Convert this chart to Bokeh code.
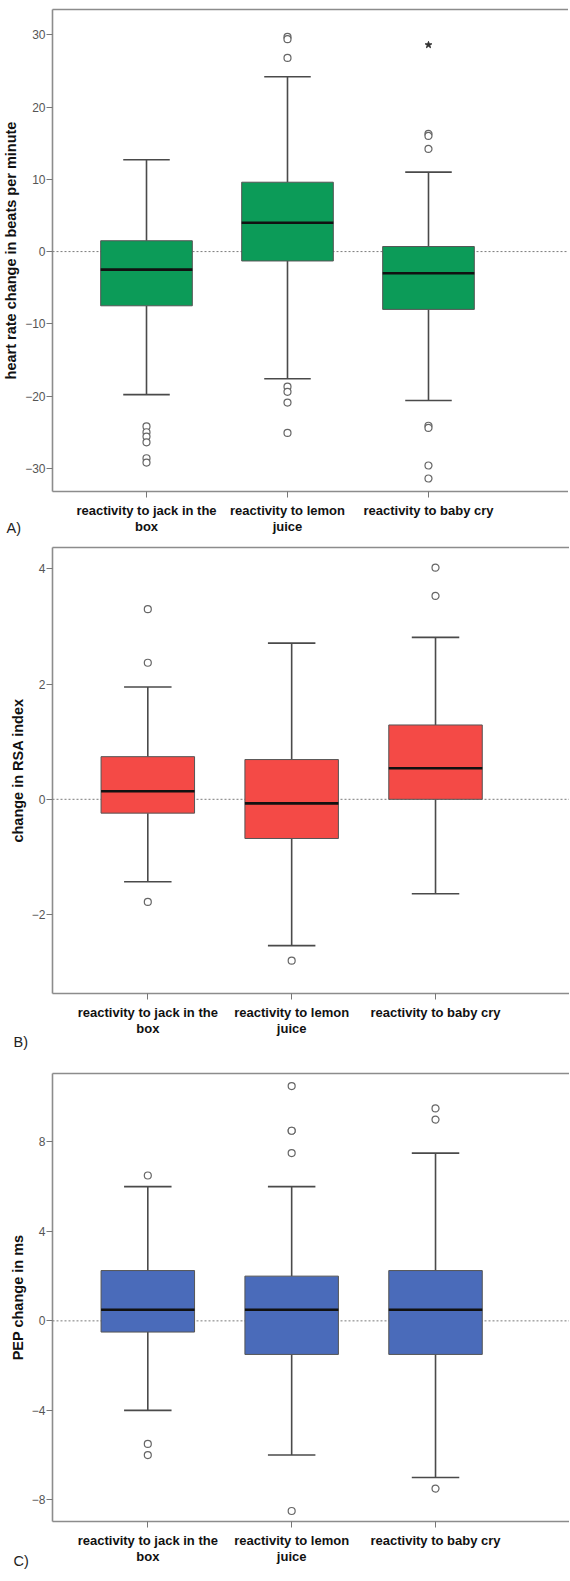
from bokeh.plotting import figure
from bokeh.layouts import column
from bokeh.models import Range1d, Span, LinearAxis, FixedTicker, Title, ColumnDataSource
from bokeh.embed import file_html
from bokeh.resources import INLINE

# ---------------- data ----------------
categories = ["reactivity to jack in the box", "reactivity to lemon juice", "reactivity to baby cry"]
category_labels = ["reactivity to jack in the\nbox", "reactivity to lemon\njuice", "reactivity to baby cry"]
positions = [1, 2, 3]

# Panel A: heart rate change (bpm)
hr_lower = [-19.8, -17.6, -20.6]
hr_q1 = [-7.5, -1.3, -8.0]
hr_median = [-2.5, 4.0, -3.0]
hr_q3 = [1.5, 9.6, 0.7]
hr_upper = [12.7, 24.2, 11.0]
hr_outliers_jack = [-24.2, -25.0, -25.6, -26.4, -28.6, -29.2]
hr_outliers_lemon = [29.7, 29.4, 26.8, -18.7, -19.4, -20.9, -25.1]
hr_outliers_baby = [16.3, 16.0, 14.2, -24.1, -24.4, -29.6, -31.4]
hr_extremes_baby = [28.6]
hr_ticks = [-30, -20, -10, 0, 10, 20, 30]

# Panel B: change in RSA index
rsa_lower = [-1.43, -2.54, -1.64]
rsa_q1 = [-0.24, -0.68, 0.0]
rsa_median = [0.14, -0.07, 0.54]
rsa_q3 = [0.74, 0.69, 1.29]
rsa_upper = [1.95, 2.71, 2.81]
rsa_outliers_jack = [3.30, 2.37, -1.78]
rsa_outliers_lemon = [-2.80]
rsa_outliers_baby = [4.02, 3.53]
rsa_ticks = [-2, 0, 2, 4]

# Panel C: PEP change (ms)
pep_lower = [-4.0, -6.0, -7.0]
pep_q1 = [-0.5, -1.5, -1.5]
pep_median = [0.5, 0.5, 0.5]
pep_q3 = [2.25, 2.0, 2.25]
pep_upper = [6.0, 6.0, 7.5]
pep_outliers_jack = [6.5, -5.5, -6.0]
pep_outliers_lemon = [10.5, 8.5, 8.5, 7.5, -8.5]
pep_outliers_baby = [9.5, 9.0, -7.5]
pep_ticks = [-8, -4, 0, 4, 8]

FRAME = "#8c8c8c"
FONT = "Liberation Sans"


def bare_axis(color, width):
    return LinearAxis(ticker=FixedTicker(ticks=[]), major_label_text_font_size="0px",
                      major_tick_out=0, major_tick_in=0, minor_tick_out=0, minor_tick_in=0,
                      major_label_standoff=0, axis_line_color=color, axis_line_width=width)


def panel(letter, ytitle, lower, q1, med, q3, upper, outs, extremes, yticks,
          yr, xr, fill, fw, fh, ml, mt, mb, letter_standoff):
    p = figure(frame_width=fw, frame_height=fh, min_border_left=ml, min_border_right=0,
               min_border_top=mt, min_border_bottom=mb,
               x_range=Range1d(*xr), y_range=Range1d(*yr),
               output_backend="svg", toolbar_location=None)
    p.outline_line_color = None
    p.grid.visible = False
    p.background_fill_color = "white"
    p.border_fill_color = "white"

    # zero reference line
    p.add_layout(Span(location=0, dimension="width", line_color="#7a7a7a",
                      line_dash="2 2", line_width=1, level="underlay"))

    bw = 0.65
    cw = 0.33
    src = ColumnDataSource(dict(x=positions, lower=lower, q1=q1, med=med, q3=q3, upper=upper,
                                cl=[v - cw / 2 for v in positions], cr=[v + cw / 2 for v in positions],
                                bl=[v - bw / 2 for v in positions], br=[v + bw / 2 for v in positions]))
    # whiskers
    p.segment("x", "q3", "x", "upper", source=src, line_color="#4a4a4a", line_width=1.6)
    p.segment("x", "q1", "x", "lower", source=src, line_color="#4a4a4a", line_width=1.6)
    p.segment("cl", "upper", "cr", "upper", source=src, line_color="#4a4a4a", line_width=1.6)
    p.segment("cl", "lower", "cr", "lower", source=src, line_color="#4a4a4a", line_width=1.6)
    # boxes
    p.vbar(x="x", width=bw, top="q3", bottom="q1", source=src, fill_color=fill,
           line_color="#555555", line_width=1)
    # medians
    p.segment("bl", "med", "br", "med", source=src, line_color="#111111", line_width=2.6)

    # outliers
    ox, oy = [], []
    for pos, vals in zip(positions, outs):
        ox += [pos] * len(vals)
        oy += vals
    p.scatter(ox, oy, marker="circle", size=7, fill_color="white",
              line_color="#666666", line_width=1.2)
    if extremes:
        ex, ey = [], []
        for pos, vals in zip(positions, extremes):
            ex += [pos] * len(vals)
            ey += vals
        p.scatter(ex, ey, marker="star", size=7, fill_color="#333333", line_color="#333333")

    # axes
    xa = p.xaxis[0]
    xa.ticker = FixedTicker(ticks=positions)
    xa.major_label_overrides = {pos: lbl for pos, lbl in zip(positions, category_labels)}
    xa.major_label_text_font = FONT
    xa.major_label_text_font_style = "bold"
    xa.major_label_text_font_size = "13px"
    xa.major_label_text_color = "#111111"
    xa.major_label_standoff = 5
    xa.major_label_text_line_height = 1.1
    xa.minor_tick_line_color = None
    xa.major_tick_in = 0
    xa.major_tick_out = 6
    xa.major_tick_line_color = "#777777"
    xa.axis_line_color = FRAME
    xa.axis_line_width = 1.6

    ya = p.yaxis[0]
    ya.ticker = FixedTicker(ticks=yticks)
    ya.axis_label = ytitle
    ya.axis_label_text_font = FONT
    ya.axis_label_text_font_style = "bold"
    ya.axis_label_text_font_size = "14.5px"
    ya.axis_label_text_color = "#111111"
    ya.axis_label_standoff = 3
    ya.major_label_text_font = FONT
    ya.major_label_text_font_size = "12px"
    ya.major_label_text_color = "#555555"
    ya.major_label_standoff = 1
    ya.minor_tick_line_color = None
    ya.major_tick_in = 0
    ya.major_tick_out = 6
    ya.major_tick_line_color = "#777777"
    ya.axis_line_color = FRAME
    ya.axis_line_width = 1.6

    p.add_layout(bare_axis(FRAME, 1.6), "above")

    p.add_layout(Title(text=letter, align="left", offset=-ml, standoff=letter_standoff,
                       vertical_align="top",
                       text_font=FONT, text_font_size="14.5px", text_font_style="normal",
                       text_color="#222222"), "below")
    return p


pa = panel("A)", "heart rate change in beats per minute", hr_lower, hr_q1, hr_median, hr_q3, hr_upper,
           [hr_outliers_jack, hr_outliers_lemon, hr_outliers_baby], [[], [], hr_extremes_baby],
           hr_ticks, (-33.2, 33.5), (0.3333, 3.993), "#0c9b58", 516, 482, 46, 9, 55, -36)
pb = panel("B)", "change in RSA index", rsa_lower, rsa_q1, rsa_median, rsa_q3, rsa_upper,
           [rsa_outliers_jack, rsa_outliers_lemon, rsa_outliers_baby], None,
           rsa_ticks, (-3.37, 4.37), (0.3375, 3.973), "#f44a46", 523, 446, 39, 1, 79, -12)
pc = panel("C)", "PEP change in ms", pep_lower, pep_q1, pep_median, pep_q3, pep_upper,
           [pep_outliers_jack, pep_outliers_lemon, pep_outliers_baby], None,
           pep_ticks, (-8.97, 11.06), (0.3375, 3.973), "#4a6bba", 523, 448, 39, 1, 52, -30)

layout = column(pa, pb, pc, spacing=0)
open("out.html", "w").write(file_html(layout, INLINE))
